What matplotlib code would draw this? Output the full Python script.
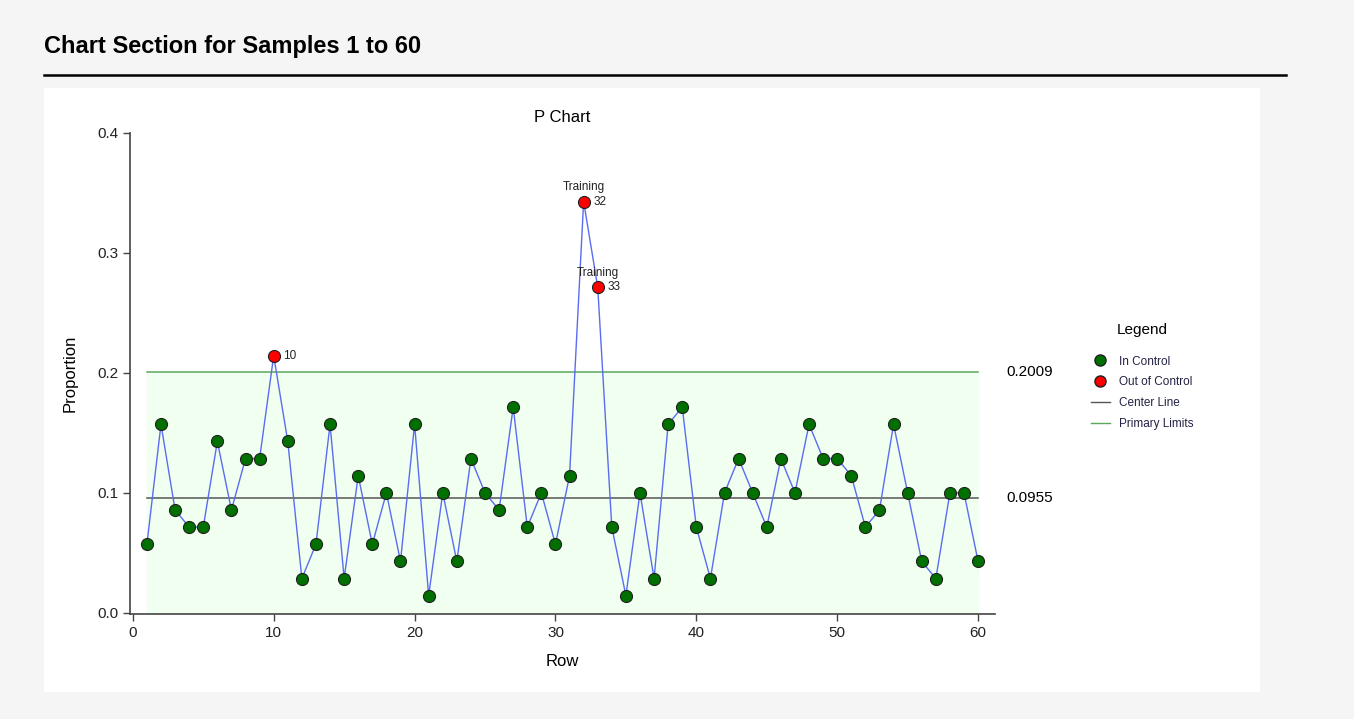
import matplotlib.pyplot as plt
import matplotlib.lines as mlines
from matplotlib.patches import Rectangle
import numpy as np

plt.rcParams['font.family'] = ['Liberation Sans', 'DejaVu Sans']

# sample proportions (defects out of 70 per sample)
rows = list(range(1, 61))
counts = [4, 11, 6, 5, 5, 10, 6, 9, 9, 15,
          10, 2, 4, 11, 2, 8, 4, 7, 3, 11,
          1, 7, 3, 9, 7, 6, 12, 5, 7, 4,
          8, 24, 19, 5, 1, 7, 2, 11, 12, 5,
          2, 7, 9, 7, 5, 9, 7, 11, 9, 9,
          8, 5, 6, 11, 7, 3, 2, 7, 7, 3]
sample_size = 70
center = 0.0955
ucl = 0.2009
lcl = 0.0
out_rows = [10, 32, 33]
training_rows = [32, 33]

p = np.array(counts) / sample_size
x = np.array(rows)

W, H = 1354, 719
fig = plt.figure(figsize=(W / 100, H / 100), dpi=100)
fig.patch.set_facecolor('#f5f5f5')

# white panel and header
fig.patches.append(Rectangle((44 / W, 1 - 692 / H), (1260 - 44) / W, (692 - 88) / H,
                             transform=fig.transFigure, facecolor='white',
                             edgecolor='none', zorder=-10))
fig.text(44 / W, 1 - 47 / H, 'Chart Section for Samples 1 to 60', fontsize=17,
         fontweight='bold', va='center', ha='left')
fig.add_artist(mlines.Line2D([44 / W, 1286 / W], [1 - 75 / H, 1 - 75 / H],
                             transform=fig.transFigure, color='black', lw=1.8))

ax = fig.add_axes([130 / W, 1 - 614 / H, (995 - 130) / W, (614 - 133) / H])
ax.set_facecolor('none')
ax.set_zorder(1)

ax.fill_between([rows[0], rows[-1]], lcl, ucl, color='#f0fff0', zorder=1)
ax.plot([rows[0], rows[-1]], [ucl, ucl], color='#5aa85a', lw=1.1, zorder=2)
ax.plot([rows[0], rows[-1]], [center, center], color='#555555', lw=1.1, zorder=2)
ax.plot(x, p, color='#5a6cf0', lw=1.0, zorder=3)

out_mask = np.isin(x, out_rows)
ax.scatter(x[~out_mask], p[~out_mask], s=75, color='#007000', edgecolor='#202020',
           linewidth=0.8, zorder=4)
ax.scatter(x[out_mask], p[out_mask], s=75, color='#ff0000', edgecolor='#202020',
           linewidth=0.8, zorder=4)

for r in out_rows:
    ax.annotate(str(r), (r, p[r - 1]), xytext=(7, 0), textcoords='offset points',
                fontsize=8.5, va='center', ha='left', color='#222222')
for r in training_rows:
    ax.annotate('Training', (r, p[r - 1]), xytext=(0, 6), textcoords='offset points',
                fontsize=8.5, va='bottom', ha='center', color='#222222')

ax.text(62.0, ucl, f'{ucl:.4f}', fontsize=11, va='center', ha='left')
ax.text(62.0, center, f'{center:.4f}', fontsize=11, va='center', ha='left')

ax.set_xlim(-0.2, 61.2)
ax.set_ylim(-0.001, 0.4)
ax.set_xticks([0, 10, 20, 30, 40, 50, 60])
ax.set_yticks([0.0, 0.1, 0.2, 0.3, 0.4])
ax.set_yticklabels(['0.0', '0.1', '0.2', '0.3', '0.4'])
for s in ['top', 'right']:
    ax.spines[s].set_visible(False)
for s in ['left', 'bottom']:
    ax.spines[s].set_color('#444444')
    ax.spines[s].set_linewidth(1.2)
ax.tick_params(length=5, width=1, colors='#444444', labelsize=11, labelcolor='#222222')
ax.set_title('P Chart', fontsize=12, pad=8)
ax.set_xlabel('Row', fontsize=12, labelpad=10)
ax.set_ylabel('Proportion', fontsize=12, labelpad=14)

handles = [
    mlines.Line2D([], [], marker='o', ls='none', markersize=8, markerfacecolor='#007000',
                  markeredgecolor='#202020', label='In Control'),
    mlines.Line2D([], [], marker='o', ls='none', markersize=8, markerfacecolor='#ff0000',
                  markeredgecolor='#202020', label='Out of Control'),
    mlines.Line2D([], [], color='#555555', lw=1, label='Center Line'),
    mlines.Line2D([], [], color='#5aa85a', lw=1, label='Primary Limits'),
]
fig.text(1142 / W, 1 - 330 / H, 'Legend', fontsize=11, ha='center', va='center')
leg = fig.legend(handles=handles, loc='upper left',
                 bbox_to_anchor=(1080 / W, 1 - 345 / H), frameon=False,
                 fontsize=8.5, handlelength=1.6,
                 labelspacing=0.75, handletextpad=0.8)
for t in leg.get_texts():
    t.set_color('#222244')

fig.savefig('out.png', dpi=100, facecolor=fig.get_facecolor())
